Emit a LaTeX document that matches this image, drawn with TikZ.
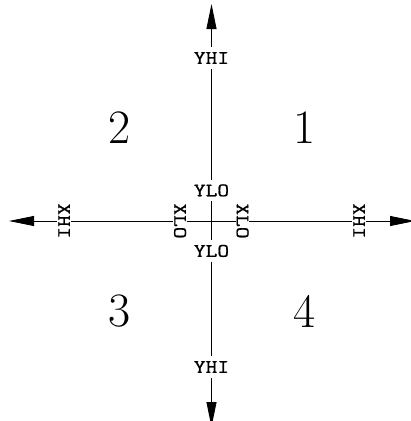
\documentclass[tikz,border=0pt]{standalone}
\usepackage{fontspec}
\newfontfamily\labfont{Latin Modern Mono}[FakeBold=0.8]
\usetikzlibrary{arrows.meta}
\newcommand{\wlab}[1]{\scalebox{1.2}[1]{#1}}
\begin{document}
\begin{tikzpicture}[x=1pt,y=-1pt,
  axis/.style={line width=0.8pt,black},
  tipped/.style={axis,-{Triangle[length=25pt,width=10pt]}},
  hlab/.style={font=\labfont\fontsize{19}{19}\selectfont,text height=11.5pt,text depth=0pt,inner xsep=1pt,inner ysep=5pt},
  vlab/.style={font=\labfont\fontsize{19}{19}\selectfont,text height=11.5pt,text depth=0pt,inner xsep=4pt,inner ysep=1pt,rotate=-90},
  quad/.style={font=\fontsize{48}{48}\selectfont,inner sep=0pt}]
\useasboundingbox (0,0) rectangle (411,421);
% arrow ends
\coordinate (tipT) at (211.5,4);
\coordinate (tipB) at (211.5,427);
\coordinate (tipL) at (9,221);
\coordinate (tipR) at (415,221);
% labels on the vertical axis
\node[hlab] (yhiT) at (211.5,58) {\wlab{YHI}};
\node[hlab] (yloT) at (211.5,190.5) {\wlab{YLO}};
\node[hlab] (yloB) at (211.5,251) {\wlab{YLO}};
\node[hlab] (yhiB) at (211.5,367) {\wlab{YHI}};
% labels on the horizontal axis
\node[vlab] (xhiL) at (64,221) {\wlab{XHI}};
\node[vlab] (xloL) at (180,221) {\wlab{XLO}};
\node[vlab] (xloR) at (242.5,221) {\wlab{XLO}};
\node[vlab] (xhiR) at (359,221) {\wlab{XHI}};
% quadrant numbers
\node[quad] (q1) at (305,128) {1};
\node[quad] (q2) at (120,128) {2};
\node[quad] (q3) at (120,311) {3};
\node[quad] (q4) at (305,311) {4};
% vertical axis
\draw[tipped] (yhiT) -- (tipT);
\draw[axis] (yhiT) -- (yloT);
\draw[axis] (yloT) -- (yloB);
\draw[axis] (yloB) -- (yhiB);
\draw[tipped] (yhiB) -- (tipB);
% horizontal axis
\draw[tipped] (xhiL) -- (tipL);
\draw[axis] (xhiL) -- (xloL);
\draw[axis] (xloL) -- (xloR);
\draw[axis] (xloR) -- (xhiR);
\draw[tipped] (xhiR) -- (tipR);
\end{tikzpicture}
\end{document}
